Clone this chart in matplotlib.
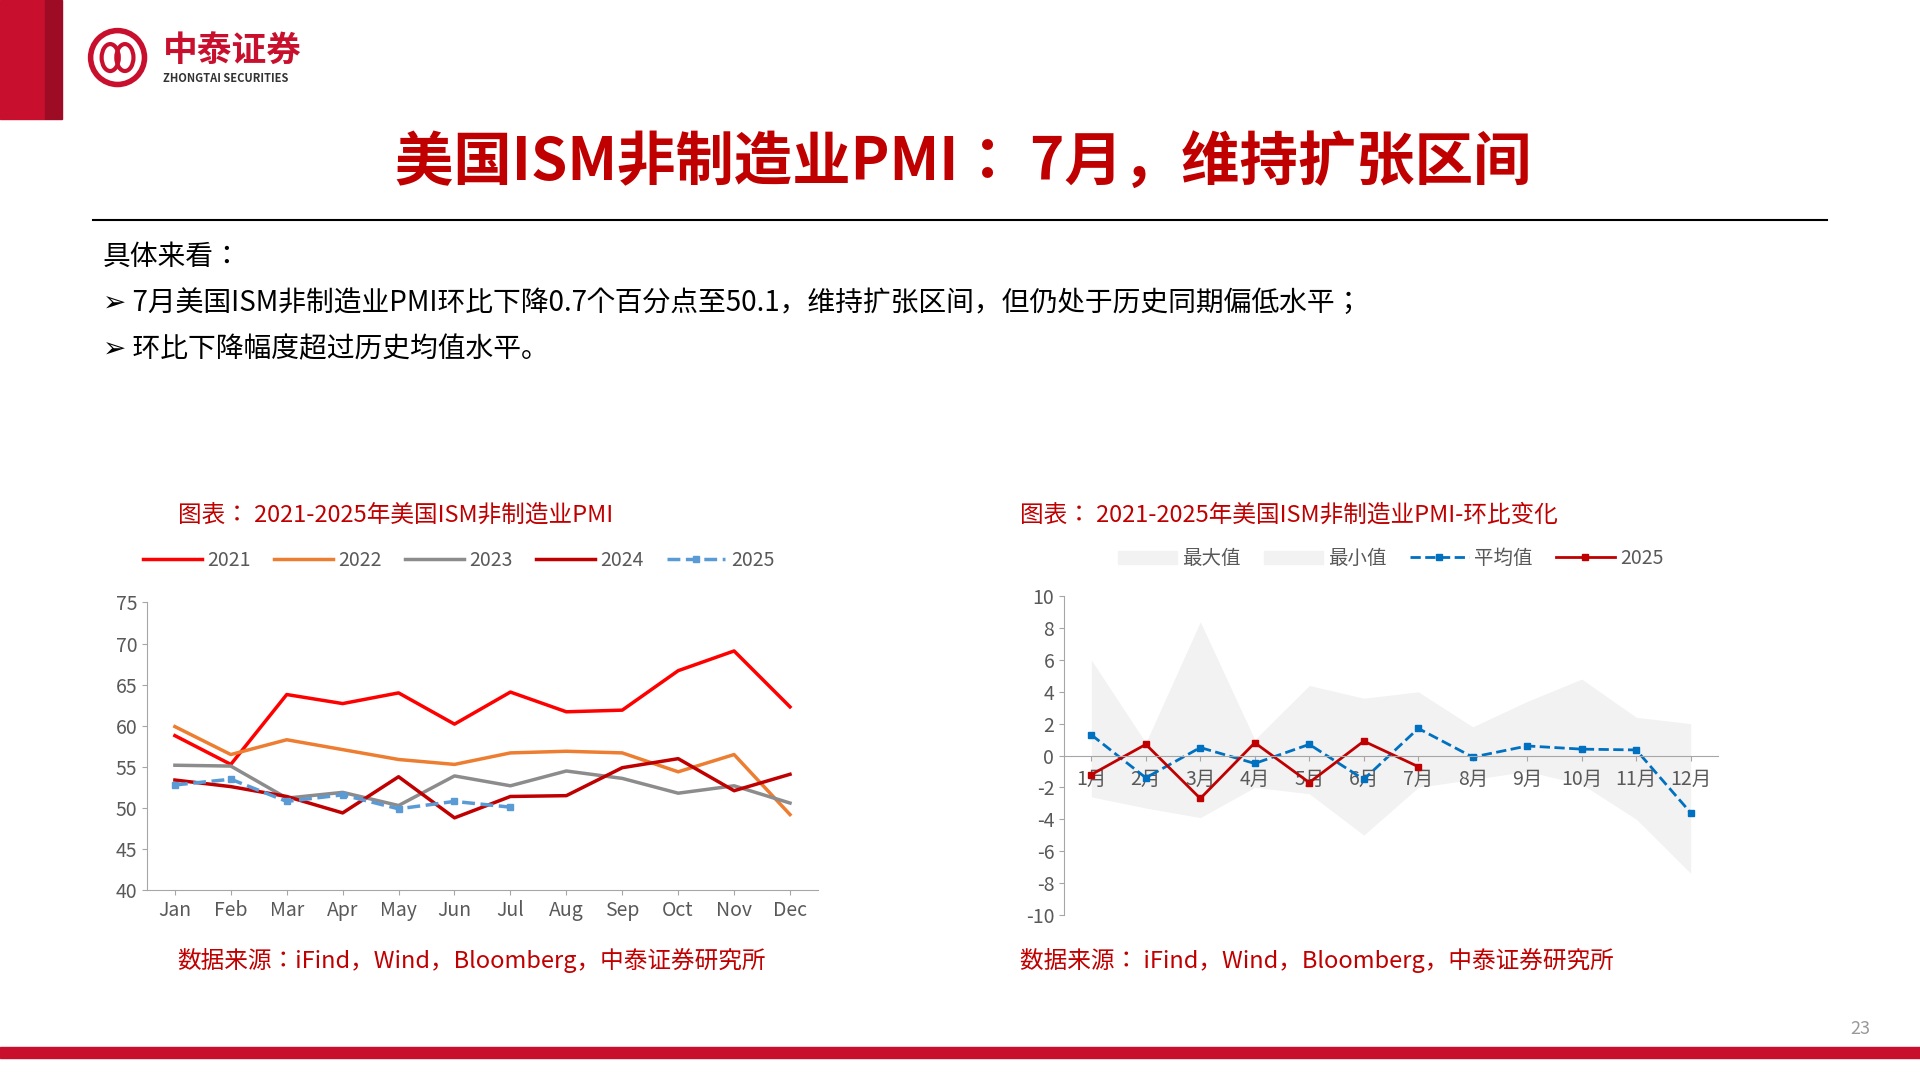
import matplotlib.pyplot as plt
import matplotlib.patches as mpatches
from matplotlib.lines import Line2D
from matplotlib import font_manager as fm

# 找到已安装的CJK字体名
cjk_name = 'Noto Sans CJK JP'
for f in fm.fontManager.ttflist:
    if f.fname.endswith('NotoSansCJK-Regular.ttc'):
        cjk_name = f.name
        break
plt.rcParams['font.family'] = [cjk_name, 'DejaVu Sans']
plt.rcParams['axes.unicode_minus'] = False

# 左图：2021-2025年美国ISM非制造业PMI
months_en = ['Jan', 'Feb', 'Mar', 'Apr', 'May', 'Jun', 'Jul', 'Aug', 'Sep', 'Oct', 'Nov', 'Dec']
pmi_2021 = [58.8, 55.3, 63.8, 62.7, 64.0, 60.2, 64.1, 61.7, 61.9, 66.7, 69.1, 62.3]
pmi_2022 = [59.9, 56.5, 58.3, 57.1, 55.9, 55.3, 56.7, 56.9, 56.7, 54.4, 56.5, 49.2]
pmi_2023 = [55.2, 55.1, 51.2, 51.9, 50.3, 53.9, 52.7, 54.5, 53.6, 51.8, 52.7, 50.6]
pmi_2024 = [53.4, 52.6, 51.4, 49.4, 53.8, 48.8, 51.4, 51.5, 54.9, 56.0, 52.1, 54.1]
pmi_2025 = [52.8, 53.5, 50.8, 51.6, 49.9, 50.8, 50.1]

# 右图：环比变化
months_cn = ['1月', '2月', '3月', '4月', '5月', '6月', '7月', '8月', '9月', '10月', '11月', '12月']
chg_max = [6.0, 0.8, 8.4, 1.0, 4.4, 3.6, 4.0, 1.8, 3.4, 4.8, 2.4, 2.0]
chg_min = [-2.6, -3.3, -3.9, -2.0, -2.4, -5.0, -2.0, -1.5, -1.0, -1.8, -4.0, -7.4]
chg_avg = [1.3, -1.4, 0.5, -0.5, 0.7, -1.5, 1.7, -0.1, 0.6, 0.4, 0.35, -3.6]
chg_2025 = [-1.2, 0.7, -2.7, 0.8, -1.7, 0.9, -0.7]

RED = '#c00000'
GREY = '#595959'

fig = plt.figure(figsize=(19.2, 10.8), dpi=100)

# 页眉与页脚
fig.patches.append(mpatches.Rectangle((0, 1 - 97/882), 37/1568, 97/882, transform=fig.transFigure, color='#c8102e'))
fig.patches.append(mpatches.Rectangle((37/1568, 1 - 97/882), 14/1568, 97/882, transform=fig.transFigure, color='#9e0b24'))
fig.patches.append(mpatches.Ellipse((96/1568, 1 - 47/882), 44/1568, 44/882, transform=fig.transFigure, fill=False, ec='#c8102e', lw=4))
fig.patches.append(mpatches.Ellipse((90/1568, 1 - 47/882), 14/1568, 22/882, transform=fig.transFigure, fill=False, ec='#c8102e', lw=3))
fig.patches.append(mpatches.Ellipse((102/1568, 1 - 47/882), 14/1568, 22/882, transform=fig.transFigure, fill=False, ec='#c8102e', lw=3))
fig.text(133/1568, 1 - 41/882, '中泰证券', fontsize=25, fontweight='bold', color='#c8102e', va='center')
fig.text(133/1568, 1 - 64/882, 'ZHONGTAI SECURITIES', fontsize=8, fontweight='bold', color='#333333', va='center')
fig.patches.append(mpatches.Rectangle((0, 1 - 864/882), 1, 9/882, transform=fig.transFigure, color='#c8102e'))
fig.text(1519/1568, 1 - 840/882, '23', fontsize=13, color='#999999', ha='center', va='center')

fig.text(787/1568, 1 - 133/882, '美国ISM非制造业PMI： 7月，维持扩张区间', fontsize=42, fontweight='bold',
         color=RED, ha='center', va='center')
fig.add_artist(Line2D([76/1568, 1492/1568], [1 - 180/882] * 2, color='black', lw=1.5))
fig.text(84/1568, 1 - 210/882, '具体来看：', fontsize=20, va='center')
fig.text(84/1568, 1 - 247/882, '➢ 7月美国ISM非制造业PMI环比下降0.7个百分点至50.1，维持扩张区间，但仍处于历史同期偏低水平；',
         fontsize=20, va='center')
fig.text(84/1568, 1 - 285/882, '➢ 环比下降幅度超过历史均值水平。', fontsize=20, va='center')

# 左图
ax1 = fig.add_axes([120/1568, 1 - 727/882, 548/1568, 235/882])
x1 = range(12)
ax1.plot(x1, pmi_2021, color='#ff0000', lw=2.5, label='2021')
ax1.plot(x1, pmi_2022, color='#ed7d31', lw=2.5, label='2022')
ax1.plot(x1, pmi_2023, color='#8c8c8c', lw=2.5, label='2023')
ax1.plot(x1, pmi_2024, color='#c00000', lw=2.5, label='2024')
ax1.plot(range(len(pmi_2025)), pmi_2025, color='#5b9bd5', lw=2.5, ls='--', marker='s', ms=5, label='2025')
ax1.set_xlim(-0.5, 11.5)
ax1.set_ylim(40, 75)
ax1.set_yticks(range(40, 76, 5))
ax1.set_xticks(x1)
ax1.set_xticklabels(months_en)
ax1.legend(loc='lower center', bbox_to_anchor=(0.465, 1.05), ncol=5, frameon=False, fontsize=14,
           handlelength=3, handletextpad=0.3, columnspacing=1.2, labelcolor=GREY)
fig.text(145/1568, 1 - 421/882, '图表： 2021-2025年美国ISM非制造业PMI', fontsize=17, style='italic', color=RED, va='center')
fig.text(145/1568, 1 - 784/882, '数据来源：iFind，Wind，Bloomberg，中泰证券研究所', fontsize=17, style='italic', color=RED, va='center')

# 右图
ax2 = fig.add_axes([869/1568, 1 - 747/882, 534/1568, 260/882])
x2 = range(12)
ax2.fill_between(x2, 0, chg_max, color='#f2f2f2', lw=0)
ax2.fill_between(x2, chg_min, 0, color='#f2f2f2', lw=0)
ax2.plot(x2, chg_avg, color='#0070c0', lw=2, ls='--', marker='s', ms=5)
ax2.plot(range(len(chg_2025)), chg_2025, color='#c00000', lw=2, marker='s', ms=5)
ax2.set_xlim(-0.5, 11.5)
ax2.set_ylim(-10, 10)
ax2.set_yticks(range(-10, 11, 2))
ax2.spines['bottom'].set_position(('data', 0))
ax2.set_xticks(x2)
ax2.set_xticklabels(months_cn)
ax2.tick_params(axis='x', pad=6)
handles = [mpatches.Patch(color='#f2f2f2', label='最大值'),
           mpatches.Patch(color='#f2f2f2', label='最小值'),
           Line2D([], [], color='#0070c0', lw=2, ls='--', marker='s', ms=5, label='平均值'),
           Line2D([], [], color='#c00000', lw=2, marker='s', ms=5, label='2025')]
ax2.legend(handles=handles, loc='lower center', bbox_to_anchor=(0.5, 1.03), ncol=4, frameon=False,
           fontsize=14, handlelength=3, handletextpad=0.3, columnspacing=1.2, labelcolor=GREY)
fig.text(833/1568, 1 - 421/882, '图表： 2021-2025年美国ISM非制造业PMI-环比变化', fontsize=17, style='italic', color=RED, va='center')
fig.text(833/1568, 1 - 784/882, '数据来源： iFind，Wind，Bloomberg，中泰证券研究所', fontsize=17, style='italic', color=RED, va='center')

for ax in (ax1, ax2):
    for s in ('top', 'right'):
        ax.spines[s].set_visible(False)
    ax.spines['left'].set_color('#a6a6a6')
    ax.spines['bottom'].set_color('#a6a6a6')
    ax.tick_params(colors='#a6a6a6', labelcolor=GREY, labelsize=14)
    ax.set_facecolor('none')

fig.savefig('out.png', dpi=100)
